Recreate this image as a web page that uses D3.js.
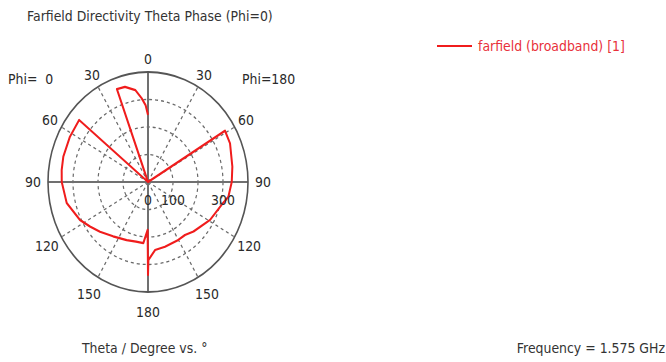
<!DOCTYPE html>
<html>
<head>
<meta charset="utf-8">
<script src="https://cdn.jsdelivr.net/npm/d3@7"></script>
<style>
  html, body { margin: 0; padding: 0; background: #fff; }
  svg { display: block; }
  text { font-family: "DejaVu Sans", sans-serif; fill: #2a2a2a; white-space: pre; }
</style>
</head>
<body>
<svg id="chart" width="666" height="362"></svg>
<script>
// Farfield theta phase at phi = 0 / 180, plotted against polar angle
// (angle measured counter-clockwise from the top: 0..180 is the Phi=0 half,
// 180..360 is the Phi=180 half, so theta = 360 - angle there).
const polarAngle = [0, 2, 4.7, 8.6, 14.9, 20.2, 20.5, 50.5, 50.7, 62.2, 74.8, 82.8, 90,
  103.2, 116.9, 124.9, 133.3, 144.7, 158, 167.5, 175.2, 179.5, 180, 180.3, 186.5, 196.1,
  209.9, 217.5, 225.3, 241, 255.8, 260.5, 270, 279.4, 293.2, 301.2, 301.5, 360];
const phaseDeg = [244, 280, 305, 338, 358, 360, 0, 0, 356, 353, 351, 348, 345,
  334, 305, 283, 264, 242, 228, 222, 223, 174, 338, 284, 249, 245,
  243, 243, 256, 284, 310, 326, 335, 342, 357, 360, 0, 0];

const radialTicks = [100, 200, 300];
const radialTickLabels = ["0", "100", "300"];
const radialLabelValues = [0, 100, 300];
const radialMax = 400;
const spokeAngles = [30, 60, 120, 150, 210, 240, 300, 330];
const axisAngles = [0, 90, 180, 270];
const angleLabelAngles = [0, 30, 60, 90, 120, 150, 180, 210, 240, 270, 300, 330];
const angleLabelTexts = ["0", "30", "60", "90", "120", "150", "180", "150", "120", "90", "60", "30"];
const seriesName = "farfield (broadband) [1]";

const svg = d3.select("#chart");
const yStretch = 1.1;                 // plot is drawn slightly taller than wide
const root = svg.append("g").attr("transform", `scale(1,${yStretch})`);

const cx = 148, cy = 182 / yStretch, R = 100;
const fontPx = 12.5;
const r = d3.scaleLinear().domain([0, radialMax]).range([0, R]);
const rad = a => a * Math.PI / 180;
const px = (a, rr) => cx - rr * Math.sin(rad(a));
const py = (a, rr) => cy - rr * Math.cos(rad(a));

const plot = root.append("g").attr("transform", `translate(${cx},${cy})`);

// dashed rings
plot.selectAll("circle.ring").data(radialTicks).join("circle")
  .attr("class", "ring").attr("r", d => r(d))
  .attr("fill", "none").attr("stroke", "#6a6a6a")
  .attr("stroke-width", 1.2).attr("stroke-dasharray", "3,3");

// dashed spokes
plot.selectAll("line.spoke").data(spokeAngles).join("line")
  .attr("class", "spoke")
  .attr("x1", 0).attr("y1", 0)
  .attr("x2", d => -R * Math.sin(rad(d))).attr("y2", d => -R * Math.cos(rad(d)))
  .attr("stroke", "#6a6a6a").attr("stroke-width", 1.2).attr("stroke-dasharray", "3,3");

// main axes
plot.selectAll("line.axis").data(axisAngles).join("line")
  .attr("class", "axis")
  .attr("x1", 0).attr("y1", 0)
  .attr("x2", d => -R * Math.sin(rad(d))).attr("y2", d => -R * Math.cos(rad(d)))
  .attr("stroke", "#707070").attr("stroke-width", 2);

// outer circle
plot.append("circle").attr("r", r(radialMax))
  .attr("fill", "none").attr("stroke", "#555").attr("stroke-width", 1.6);

// phase curve
const line = d3.lineRadial()
  .angle((d, i) => -rad(polarAngle[i]))
  .radius(d => r(d));
plot.append("path").datum(phaseDeg)
  .attr("d", line)
  .attr("fill", "none").attr("stroke", "#f01c1c")
  .attr("stroke-width", 2).attr("stroke-linejoin", "round");

// plain text helper; y given in screen pixels
const txt = (x, y, s, anchor, color) => root.append("text")
  .attr("x", x).attr("y", y / yStretch).attr("dy", "0.36em")
  .attr("text-anchor", anchor || "middle")
  .style("font-size", fontPx + "px")
  .style("fill", color || "#2a2a2a")
  .text(s);

// angle labels
angleLabelAngles.forEach((a, i) => {
  const rr = 115 - 3.5 * Math.cos(rad(a));
  root.append("text")
    .attr("x", px(a, rr)).attr("y", py(a, rr)).attr("dy", "0.36em")
    .attr("text-anchor", "middle").style("font-size", fontPx + "px")
    .text(angleLabelTexts[i]);
});

// radial labels below the horizontal axis
radialLabelValues.forEach((v, i) => {
  root.append("text")
    .attr("x", cx + r(v)).attr("y", cy + 18 / yStretch).attr("dy", "0.36em")
    .attr("text-anchor", "middle").style("font-size", fontPx + "px")
    .text(radialTickLabels[i]);
});

txt(27, 16, "Farfield Directivity Theta Phase (Phi=0)", "start", "#333");
txt(8, 79.5, "Phi=  0", "start");
txt(242, 79.5, "Phi=180", "start");
txt(82, 348.5, "Theta / Degree vs. \u00b0", "start", "#333");
txt(665, 348.5, "Frequency = 1.575 GHz", "end", "#333");

// legend
root.append("line")
  .attr("x1", 437).attr("x2", 472)
  .attr("y1", 46 / yStretch).attr("y2", 46 / yStretch)
  .attr("stroke", "#f01c1c").attr("stroke-width", 2);
txt(478, 46.5, seriesName, "start", "#e8303a");
</script>
</body>
</html>
